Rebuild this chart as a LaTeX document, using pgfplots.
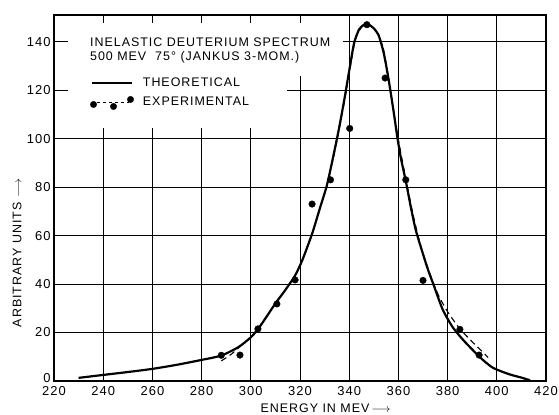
\documentclass[border=0pt]{standalone}
\usepackage{fontspec}
\setmainfont{Liberation Sans}
\newfontfamily\lettering[LetterSpace=8]{Liberation Sans}
\usepackage{pgfplots}
\pgfplotsset{compat=1.18}
\newcommand\lf{\lettering\fontsize{12.5}{15}\selectfont}
\newcommand\tf{\lettering\fontsize{13}{15}\selectfont}

\pgfplotstableread{
x y
230 1.3
240 2.5
250 3.7
260 5.0
270 6.7
280 8.7
288 10.5
295 14.0
300 18.0
303 21.5
306 25.9
310 32.0
314 37.5
318 43.5
321 50.0
325 61.0
328 71.0
331 81.0
334 95.0
336 105.0
338 116.0
340 128.0
342 139.5
344 145.0
346 147.0
348 147.0
350 145.5
352 142.5
354 135.5
356 124.5
358 111.5
359.5 101.0
361 92.0
363 82.5
365 72.0
367 62.5
369.5 54.0
372 46.0
374 40.5
378 29.5
382 22.3
386 17.3
390 13.0
394 9.0
398.5 5.4
405 2.8
410 1.4
413.5 0.3
}\theorytab

\pgfplotstableread{
x y
288 8.3
292 11.0
297 15.5
300 18.2
303 21.8
310 32.0
318 43.5
324 58.0
330 77.5
334 94.0
338 115.0
342 138.5
344 144.5
346 146.8
348 146.8
350 145.3
352 142.5
354 136.5
356 125.0
358 112.0
360 99.5
363 83.5
366 68.5
369 56.0
372 46.5
376 36.0
380 28.6
385 21.5
390 16.2
396.5 9.7
}\expfittab

\pgfplotstableread{
x y
288 10.6
295.6 10.7
302.9 21.5
310.6 31.8
318 41.7
324.9 73.0
332.4 83.0
340.2 104.2
347.2 147.0
354.6 125.0
363 83.0
370 41.5
385 21.3
392.8 10.7
}\expdatatab

\begin{document}
\begin{tikzpicture}
\useasboundingbox (-54bp,-34bp) rectangle (505bp,381bp);
\begin{axis}[
  at={(0,0)}, anchor=south west,
  scale only axis, width=492bp, height=366bp,
  xmin=220, xmax=420, ymin=0, ymax=151,
  xtick={220,240,...,420}, ytick={0,20,...,140},
  grid=major,
  grid style={black, line width=1pt},
  axis line style={black, line width=1.3pt},
  major tick length=0.5bp,
  /pgf/number format/assume math mode=true,
  /pgf/number format/1000 sep={},
  ticklabel style={font=\tf},
  xticklabel style={yshift=-2bp},
  yticklabel={\ifnum\ticknum=0 \raisebox{7bp}{0}\else\pgfmathprintnumber{\tick}\fi},
  xlabel={ENERGY IN MEV$\,\longrightarrow$},
  xlabel style={font=\lf, at={(axis description cs:0.552,-0.074)}, anchor=center},
  ylabel={ARBITRARY UNITS $\longrightarrow$},
  ylabel style={font=\lf, at={(axis description cs:-0.0752,0.35)}, anchor=center},
  legend style={at={(axis cs:234.6,125.8)}, anchor=north west, draw=none, fill=none,
    inner sep=0pt, font=\lf, row sep=4bp, cells={anchor=west}},
  legend cell align=left,
]
\fill[white] (axis cs:225.7,104.5) rectangle (axis cs:314.7,147.7);
\fill[white] (axis cs:314.7,126) rectangle (axis cs:337.5,147.7);

\addlegendimage{legend image code/.code={\draw[black, line width=2pt] (0bp,0bp) -- (40bp,0bp);}}
\addlegendentry{\hspace{7bp}THEORETICAL}
\addlegendimage{legend image code/.code={
  \draw[black, dashed, line width=1pt] (0bp,-1bp) -- (37bp,-1bp);
  \fill[black] (2bp,-3bp) circle (3.2bp);
  \fill[black] (22bp,-5bp) circle (3.2bp);
  \fill[black] (39bp,2bp) circle (3.2bp);}}
\addlegendentry{\hspace{7bp}EXPERIMENTAL}

\addplot[black, line width=2.2pt, smooth, tension=0.4, forget plot] table {\theorytab};
\addplot[black, line width=1.1pt, dashed, dash pattern=on 6pt off 4pt, smooth, tension=0.4, forget plot] table {\expfittab};
\addplot[only marks, mark=*, mark size=3.3bp, black, forget plot] table {\expdatatab};

\node[anchor=base west, inner sep=0pt, font=\lf] at (axis cs:234.6,138.2) {INELASTIC DEUTERIUM SPECTRUM};
\node[anchor=base west, inner sep=0pt, font=\lf] at (axis cs:234.6,132.4) {500 MEV\ \ 75° (JANKUS 3-MOM.)};
\end{axis}
\end{tikzpicture}
\end{document}
